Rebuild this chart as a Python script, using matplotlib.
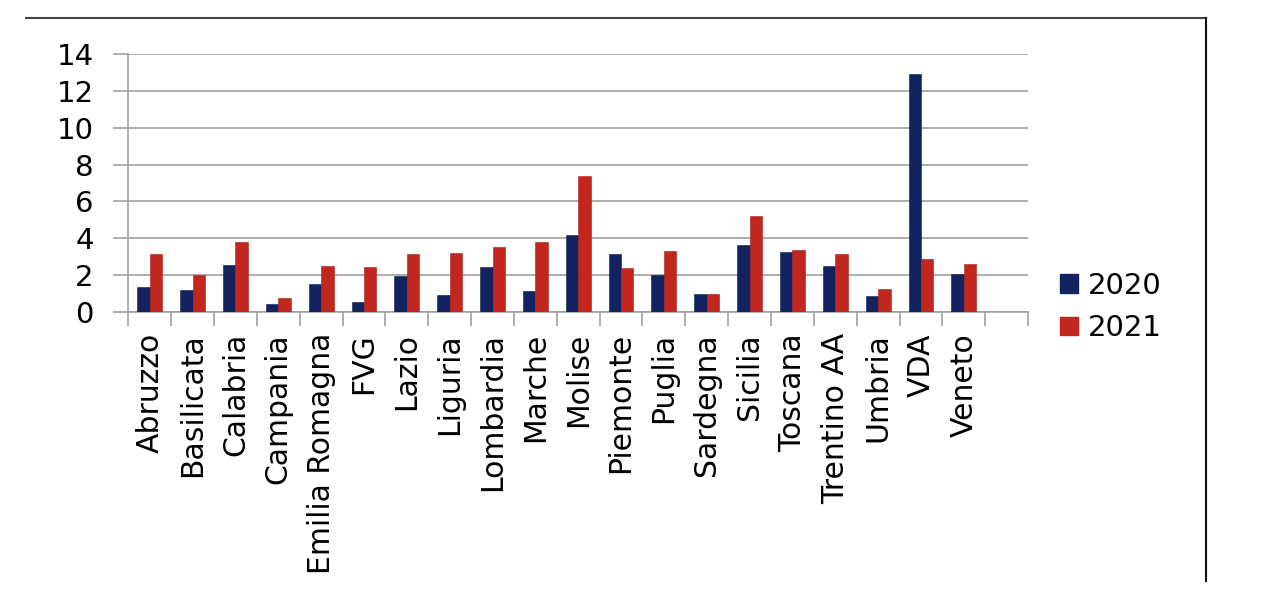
import numpy as np
import matplotlib
matplotlib.use("Agg")
import matplotlib.pyplot as plt
from matplotlib.lines import Line2D
from matplotlib.patches import Patch

regions = ["Abruzzo", "Basilicata", "Calabria", "Campania", "Emilia Romagna",
           "FVG", "Lazio", "Liguria", "Lombardia", "Marche", "Molise",
           "Piemonte", "Puglia", "Sardegna", "Sicilia", "Toscana",
           "Trentino AA", "Umbria", "VDA", "Veneto"]
values_2020 = [1.37, 1.21, 2.56, 0.45, 1.53, 0.54, 1.97, 0.96, 2.45, 1.16,
               4.19, 3.14, 2.04, 0.97, 3.65, 3.27, 2.51, 0.88, 12.9, 2.08]
values_2021 = [3.14, 2.04, 3.81, 0.76, 2.51, 2.45, 3.14, 3.21, 3.52, 3.81,
               7.40, 2.40, 3.32, 0.97, 5.22, 3.36, 3.16, 1.26, 2.89, 2.62]
years = ["2020", "2021"]
colors = ["#12235f", "#c1271f"]

fig = plt.figure(figsize=(12.72, 6.06), dpi=100)
ax = fig.add_axes([0.1009, 0.4847, 0.7073, 0.4267])

x = np.arange(len(regions))
w = 0.29
ax.bar(x - w / 2, values_2020, w, color=colors[0], edgecolor="#0a1a50", linewidth=0.4, zorder=3)
ax.bar(x + w / 2, values_2021, w, color=colors[1], edgecolor="#a8201a", linewidth=0.4, zorder=3)

# one empty slot after the last region
ax.set_xlim(-0.5, len(regions) + 0.5)
ax.set_ylim(0, 14)

ax.set_yticks(np.arange(0, 15, 2))
ax.set_yticklabels([str(v) for v in range(0, 15, 2)])
ax.tick_params(axis="y", length=11, width=1.2, color="#a0a0a0", pad=14,
               labelsize=21, labelcolor="black")
ax.grid(axis="y", color="#a0a0a0", linewidth=1.2, zorder=0)

ax.set_xticks(x)
ax.set_xticklabels(regions, rotation=90, ha="center", va="top")
ax.tick_params(axis="x", which="major", length=0, pad=15, labelsize=21.5)
ax.set_xticks(np.arange(-0.5, len(regions) + 1, 1), minor=True)
ax.tick_params(axis="x", which="minor", length=10, width=1.2, color="#a0a0a0")

for side in ["top", "right"]:
    ax.spines[side].set_visible(False)
for side in ["left", "bottom"]:
    ax.spines[side].set_color("#a0a0a0")
    ax.spines[side].set_linewidth(1.2)

handles = [Patch(facecolor=c, edgecolor=c) for c in colors]
fig.legend(handles, years, loc="center left", bbox_to_anchor=(0.8333, 0.4934),
           frameon=False, fontsize=21, handlelength=0.62, handleheight=0.62,
           handletextpad=0.35, labelspacing=0.5, borderpad=0, borderaxespad=0)

# outer frame lines (top and right)
fig.add_artist(Line2D([0.0204, 0.948], [0.9711, 0.9711], color="#444444", linewidth=1.5))
fig.add_artist(Line2D([0.948, 0.948], [0.9711, 0.0418], color="#111111", linewidth=1.5))

fig.savefig("out.png", dpi=100)
